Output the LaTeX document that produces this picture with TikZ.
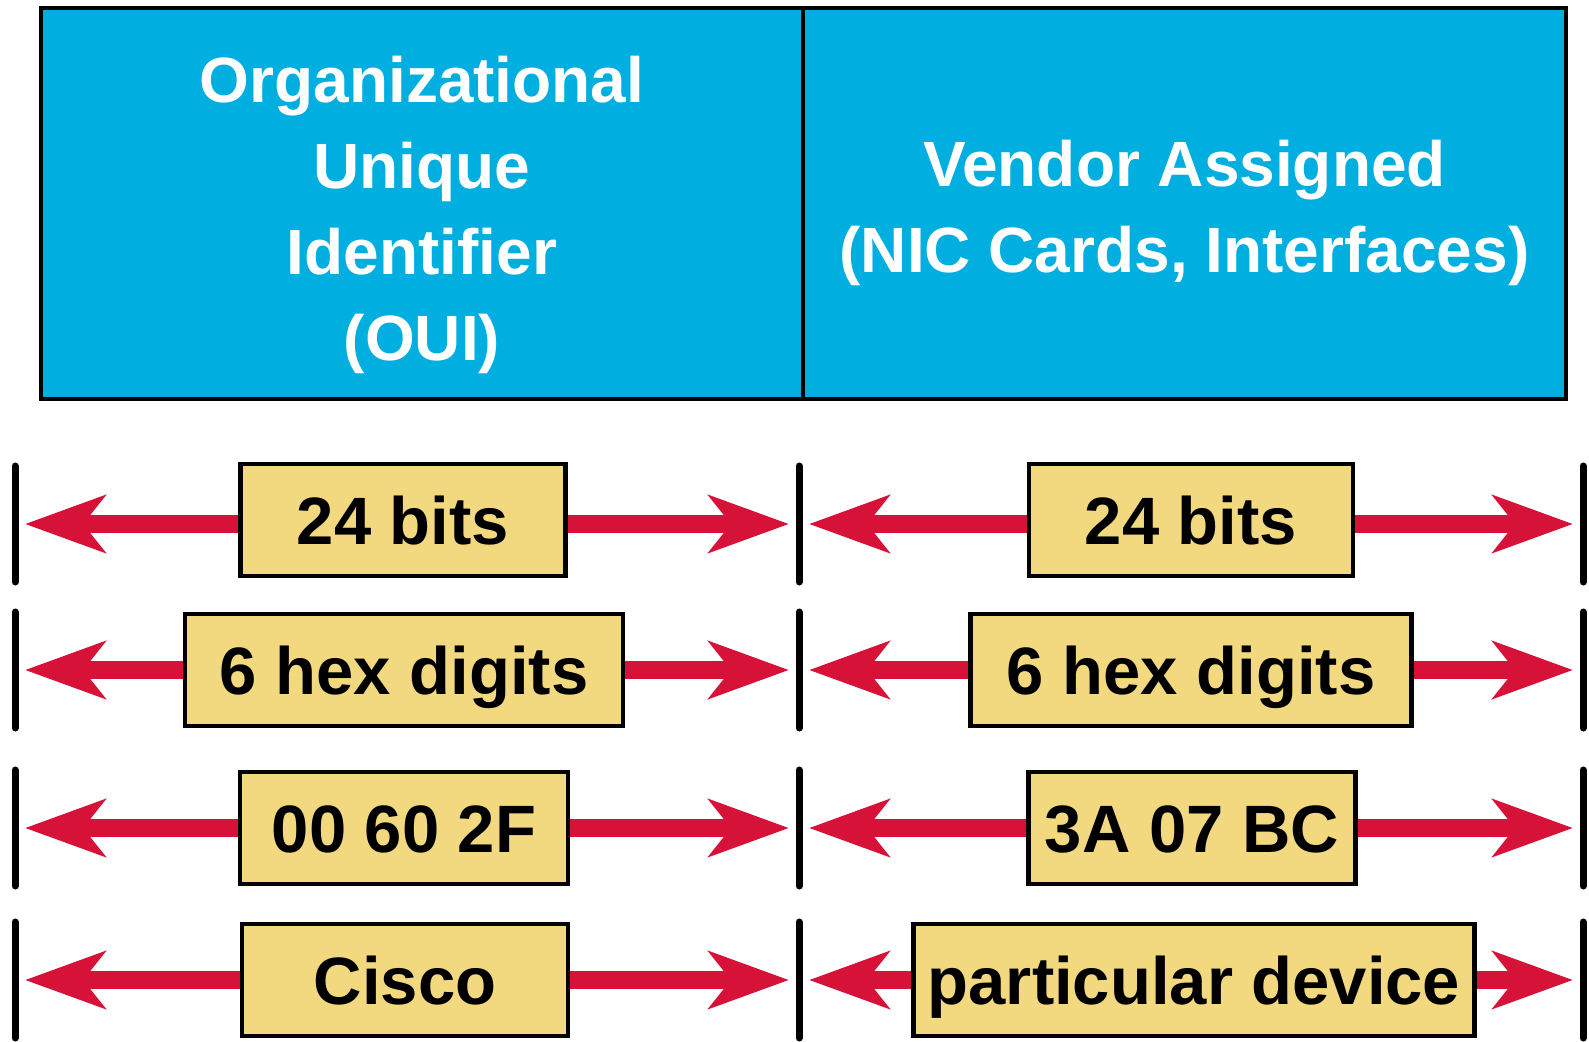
\documentclass[tikz,border=0pt]{standalone}
\usepackage{fontspec}
\setmainfont{Liberation Sans}
\usetikzlibrary{arrows.meta,calc}
\definecolor{topcyan}{RGB}{0,174,223}
\definecolor{boxyellow}{RGB}{242,216,126}
\definecolor{arrred}{RGB}{214,18,56}
\begin{document}
\begin{tikzpicture}[x=1pt,y=-1pt,
  header/.style={draw=black,line width=3.5pt,fill=topcyan,inner sep=0pt,minimum height=391pt},
  htext/.style={text=white,font=\fontsize{64}{86}\selectfont\bfseries,align=center,inner sep=0pt},
  valbox/.style={draw=black,line width=4.5pt,fill=boxyellow,font=\fontsize{67}{70}\selectfont\bfseries,text height=48pt,text depth=0pt,inner sep=0pt,minimum height=112pt},
  arr/.style={draw=arrred,line width=18pt,-{Stealth[length=80pt,width=57pt,inset=22pt]},shorten >=10pt},
  bar/.style={draw=black,line width=7pt,line cap=round}]
\useasboundingbox (0,0) rectangle (1589,1041);
% header
\node[header,minimum width=762pt] (oui) at (422,203.5) {};
\node[header,minimum width=763pt] (vendor) at (1184.5,203.5) {};
\node[htext] (ouitext) at ([yshift=-11pt]oui.center) {Organizational\\Unique\\Identifier\\(OUI)};
\node[htext] (vendortext) at ([yshift=-9pt]vendor.center) {Vendor Assigned\\(NIC Cards, Interfaces)};
% bars
\foreach \r/\y in {1/524,2/670,3/828,4/980}{
  \coordinate (L\r) at (15,\y);
  \coordinate (M\r) at (799,\y);
  \coordinate (R\r) at (1583,\y);
  \draw[bar] ($(L\r)+(0,-58)$) -- ($(L\r)+(0,58)$);
  \draw[bar] ($(M\r)+(0,-58)$) -- ($(M\r)+(0,58)$);
  \draw[bar] ($(R\r)+(0,-58)$) -- ($(R\r)+(0,58)$);
}
% row boxes
\node[valbox,minimum width=325pt] (a1) at (403,520) {24 bits};
\node[valbox,minimum width=324pt] (b1) at (1191,520) {24 bits};
\node[valbox,minimum width=438pt] (a2) at (404,670) {6 hex digits};
\node[valbox,minimum width=441pt] (b2) at (1191,670) {6 hex digits};
\node[valbox,minimum width=328pt] (a3) at (404,828) {00 60 2F};
\node[valbox,minimum width=327pt] (b3) at (1192,828) {3A 07 BC};
\node[valbox,minimum width=326pt] (a4) at (405,980) {Cisco};
\node[valbox,minimum width=561pt] (b4) at (1194,980) {particular device};
% arrows
\foreach \r in {1,2,3,4}{
  \draw[arr] (a\r.west |- L\r) -- (L\r);
  \draw[arr] (a\r.east |- M\r) -- (M\r);
  \draw[arr] (b\r.west |- M\r) -- (M\r);
  \draw[arr] (b\r.east |- R\r) -- (R\r);
}
\end{tikzpicture}
\end{document}
